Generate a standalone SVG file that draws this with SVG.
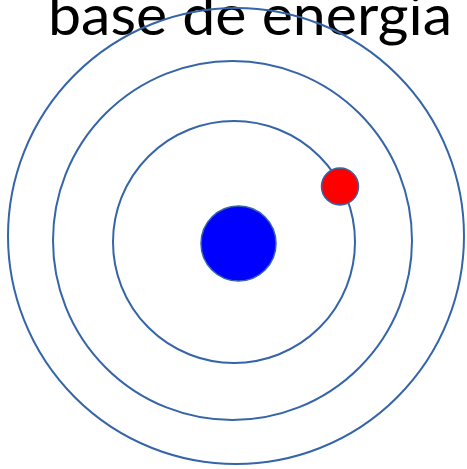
<svg xmlns="http://www.w3.org/2000/svg" width="467" height="469" viewBox="0 0 467 469">
<style>
.orbit{fill:none;stroke:#3565a8;stroke-width:2}
.t{font-family:Lato,"Liberation Sans",sans-serif;font-size:56px;fill:#000}
</style>
<rect width="467" height="469" fill="#fff"/>
<text class="t" x="48" y="35" textLength="404" lengthAdjust="spacingAndGlyphs">base de energia</text>
<g id="orbits">
<circle id="orbit3" class="orbit" cx="236" cy="236" r="228"/>
<circle id="orbit2" class="orbit" cx="232.5" cy="240.5" r="179.5"/>
<circle id="orbit1" class="orbit" cx="234" cy="242" r="121"/>
</g>
<g id="nucleus"><circle cx="238.5" cy="243.5" r="37.5" fill="#0000ff" stroke="#3565a8" stroke-width="1.5"/></g>
<g id="electron"><circle cx="340" cy="186.5" r="18.5" fill="#ff0000" stroke="#3565a8" stroke-width="1.5"/></g>
</svg>
